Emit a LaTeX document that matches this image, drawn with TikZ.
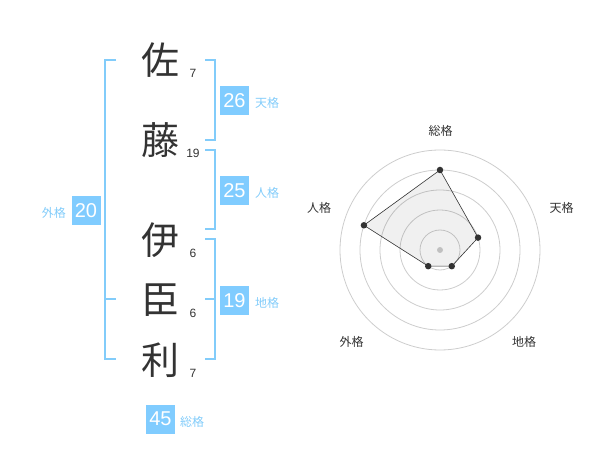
\documentclass[tikz,border=0pt]{standalone}
\usepackage{fontspec}
\setmainfont{Liberation Sans}
\newfontfamily\jp{Noto Sans CJK JP}
\definecolor{lblue}{RGB}{130,204,250}
\definecolor{bblue}{RGB}{128,204,255}
\definecolor{dgray}{RGB}{51,51,51}
\definecolor{cgray}{RGB}{205,205,205}
\begin{document}
\begin{tikzpicture}[x=1pt,y=-1pt,
  kanji/.style={font=\jp\fontsize{38}{40}\selectfont,text=dgray,inner sep=0pt},
  stroke/.style={font=\fontsize{12}{12}\selectfont,text=dgray,inner sep=0pt},
  valbox/.style={fill=bblue,text=white,minimum width=29pt,minimum height=29pt,inner sep=0pt,font=\fontsize{20}{20}\selectfont},
  kaku/.style={font=\jp\fontsize{12}{12}\selectfont,text=lblue,inner sep=0pt,anchor=west},
  brk/.style={draw=lblue,line width=2pt},
  rlabel/.style={font=\jp\fontsize{12}{12}\selectfont,text=dgray,inner sep=0pt},
  ring/.style={draw=cgray,line width=0.8pt},
  dot/.style={circle,fill=dgray,inner sep=0pt,minimum size=6.5pt}]
\useasboundingbox (0,0) rectangle (600,470);
% characters
\node[kanji] (c1) at (160,60) {佐};
\node[kanji] (c2) at (160,140) {藤};
\node[kanji] (c3) at (160,240) {伊};
\node[kanji] (c4) at (160,300) {臣};
\node[kanji] (c5) at (160,360) {利};
\node[stroke] (n1) at (193,73) {7};
\node[stroke] (n2) at (193,153) {19};
\node[stroke] (n3) at (193,253) {6};
\node[stroke] (n4) at (193,313) {6};
\node[stroke] (n5) at (193,373) {7};
% brackets
\draw[brk] (116,60) -- (105,60) -- (105,359.5) -- (116,359.5);
\draw[brk] (105,299.5) -- (116,299.5);
\draw[brk] (205,60) -- (214.5,60) -- (214.5,140) -- (205,140);
\draw[brk] (205,150) -- (214.5,150) -- (214.5,229.5) -- (205,229.5);
\draw[brk] (205,239.5) -- (214.5,239.5) -- (214.5,359.5) -- (205,359.5);
\draw[brk] (205,299.5) -- (214.5,299.5);
% value boxes
\node[valbox] (b26) at (234.5,100.5) {26};
\node[kaku] (k26) at (255,103) {天格};
\node[valbox] (b25) at (234.5,190.5) {25};
\node[kaku] (k25) at (255,193) {人格};
\node[valbox] (b19) at (234.5,300.5) {19};
\node[kaku] (k19) at (255,303) {地格};
\node[valbox] (b20) at (86,210.5) {20};
\node[kaku,anchor=east] (k20) at (66,213) {外格};
\node[valbox] (b45) at (160.5,419) {45};
\node[kaku] (k45) at (180,422) {総格};
% radar
\coordinate (o) at (440,250);
\foreach \r in {20,40,60,80,100} \draw[ring] (o) circle (\r);
\node[circle,fill=cgray,inner sep=0pt,minimum size=6pt] (oc) at (o) {};
\path (o) ++(0,-80) coordinate (p1);
\path (o) ++(38.04,-12.36) coordinate (p2);
\path (o) ++(11.76,16.18) coordinate (p3);
\path (o) ++(-11.76,16.18) coordinate (p4);
\path (o) ++(-76.08,-24.72) coordinate (p5);
\fill[black,fill opacity=0.06] (p1) -- (p2) -- (p3) -- (p4) -- (p5) -- cycle;
\draw[dgray,line width=0.6pt] (p1) -- (p2) -- (p3) -- (p4) -- (p5) -- cycle;
\foreach \p in {p1,p2,p3,p4,p5} \node[dot] at (\p) {};
\node[rlabel] (r1) at (440.7,130.7) {総格};
\node[rlabel] (r2) at (561.7,208.3) {天格};
\node[rlabel] (r3) at (524,341.7) {地格};
\node[rlabel] (r4) at (351.7,341.7) {外格};
\node[rlabel] (r5) at (319,208.3) {人格};
\end{tikzpicture}
\end{document}
